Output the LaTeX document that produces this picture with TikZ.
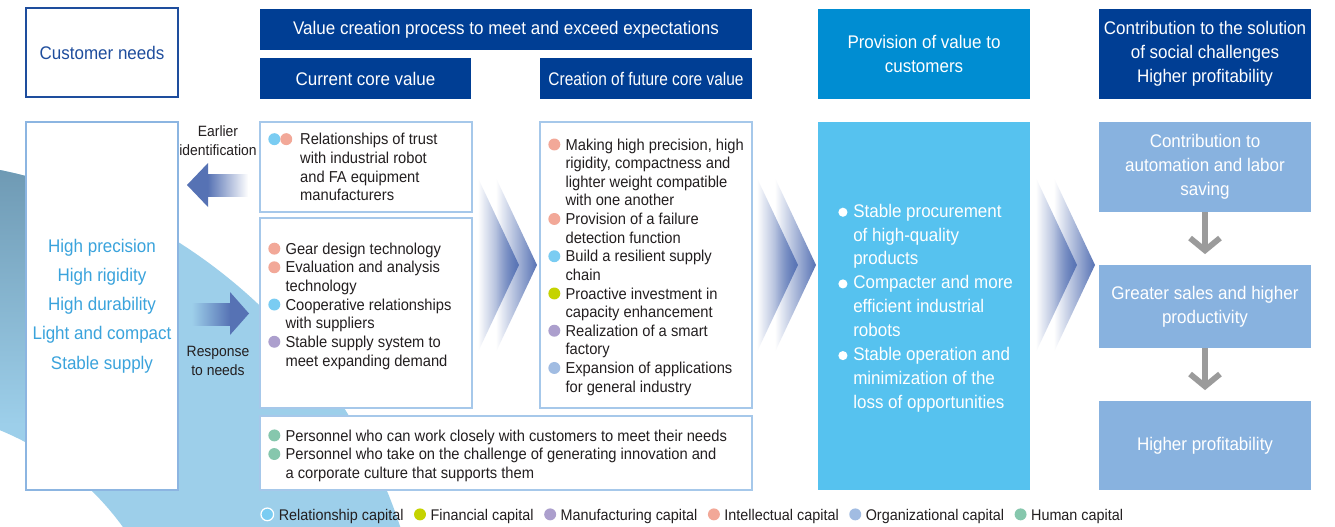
\documentclass[tikz,border=0pt]{standalone}
\usepackage{graphicx}
\usepackage{fontspec}
\setmainfont{Liberation Sans}[FakeStretch=0.93]
\usetikzlibrary{arrows.meta, fadings}

\definecolor{navy}{HTML}{003E94}
\definecolor{provblue}{HTML}{008DD2}
\definecolor{skyfill}{HTML}{56C2EF}
\definecolor{resfill}{HTML}{88B2DF}
\definecolor{panelline}{HTML}{A6C8EA}
\definecolor{leftline}{HTML}{8CB5E1}
\definecolor{needsline}{HTML}{1E4D9D}
\definecolor{needtext}{HTML}{3AA3DC}
\definecolor{arrowblue}{HTML}{5672B4}
\definecolor{bandblue}{HTML}{9DCFEA}
\definecolor{banddark}{HTML}{6E99B3}
\definecolor{flowgray}{HTML}{9B9B9B}
\definecolor{ink}{HTML}{231F20}
% capital colours
\definecolor{relcap}{HTML}{7ACCF2}
\definecolor{fincap}{HTML}{C5D300}
\definecolor{manucap}{HTML}{AC9FCD}
\definecolor{intelcap}{HTML}{F2A898}
\definecolor{orgcap}{HTML}{A1BCE2}
\definecolor{humancap}{HTML}{86C7AD}

\newcommand\bodyfont{\fontsize{9}{10.6}\selectfont}
\newcommand\boxfont{\fontsize{10.4}{13.6}\selectfont}
\newcommand\tagfont{\fontsize{8.5}{10.8}\selectfont}

\newcommand\capdot[1]{\tikz[baseline=-3.2pt]\fill[#1] (0,0) circle (3.4pt);}
\newcommand\wdot{\tikz[baseline=-2.8pt]\fill[white] (0,0) circle (2.6pt);}
\newcommand\capitem[2][9.8pt]{\makebox[#1][l]{#2}}
\newcommand\keyitem[2]{\capdot{#1}\hspace{2.6pt}#2}

\tikzfading[name=fade in right, left color=transparent!100, right color=transparent!0]
\tikzfading[name=fade out right, left color=transparent!0, right color=transparent!100]

\begin{document}
\begin{tikzpicture}[
        x=0.02cm, y=-0.02cm,
        wh/.style 2 args={minimum width=#1*0.02cm, minimum height=#2*0.02cm},
        hdr/.style={fill=navy, text=white, font=\boxfont, align=center, inner sep=0pt},
        panel/.style={draw=panelline, line width=0.6pt, fill=white, inner sep=0pt},
        items/.style={anchor=west, align=left, inner sep=0pt, font=\bodyfont, text=ink},
        result/.style={fill=resfill, text=white, font=\boxfont, align=center, inner sep=0pt},
        tag/.style={align=center, inner sep=0pt, font=\tagfont, text=ink},
        flow/.style={draw=flowgray, line width=3.3pt, -{Straight Barb[length=7pt, width=17pt]}, shorten >=6pt}
    ]
    \useasboundingbox (0,0) rectangle (1335,527);
    \fill[white] (0,0) rectangle (1335,527);

    % background ring
    \begin{scope}
        \clip (0,0) rectangle (1335,527);
        \fill[bandblue, even odd rule] (-108,694) circle[radius=10.7cm] (-108,694) circle[radius=5.7cm];
        \clip (-108,694) circle[radius=10.7cm];
        \shade[top color=banddark, bottom color=bandblue] (0,165) rectangle (178,425);
    \end{scope}

    % top row
    \node[draw=needsline, line width=1.1pt, fill=white, wh={152}{89}, text=needsline, font=\boxfont, inner sep=0pt] (needs) at (102,52.5) {Customer needs};
    \node[hdr, wh={492}{41}] (process) at (506,29.5) {Value creation process to meet and exceed expectations};
    \node[hdr, wh={211}{41}] (current) at (365.5,78.5) {Current core value};
    \node[hdr, wh={212}{41}] (future) at (646,78.5) {\scalebox{0.91}[1]{Creation of future core value}};
    \node[hdr, fill=provblue, wh={212}{90}] (provision) at (924,54) {Provision of value to\\customers};
    \node[hdr, wh={212}{90}] (social) at (1205,54) {Contribution to the solution\\of social challenges\\Higher profitability};

    % customer needs
    \node[draw=leftline, line width=1.7pt, fill=white, wh={152}{368}, inner sep=0pt,
          align=center, text=needtext, font=\fontsize{10.4}{16.6}\selectfont] (wants) at (102,306)
        {High precision\\High rigidity\\High durability\\Light and compact\\Stable supply};

    % current core value
    \node[panel, wh={212}{90}] (trust) at (366,167) {};
    \node[items] (trustT) at (268,167) {
        \capitem[18.1pt]{\capdot{relcap}\capdot{intelcap}}Relationships of trust\\
        \capitem[18.1pt]{}with industrial robot\\
        \capitem[18.1pt]{}and FA equipment\\
        \capitem[18.1pt]{}manufacturers};
    \node[panel, wh={212}{190}] (tech) at (366,313) {};
    \node[items] (techT) at (268,306) {
        \capitem{\capdot{intelcap}}Gear design technology\\
        \capitem{\capdot{intelcap}}Evaluation and analysis\\
        \capitem{}technology\\
        \capitem{\capdot{relcap}}Cooperative relationships\\
        \capitem{}with suppliers\\
        \capitem{\capdot{manucap}}Stable supply system to\\
        \capitem{}meet expanding demand};

    % future core value
    \node[panel, wh={212}{286}] (next) at (646,265) {};
    \node[items] (nextT) at (548,267) {
        \capitem{\capdot{intelcap}}Making high precision, high\\
        \capitem{}rigidity, compactness and\\
        \capitem{}lighter weight compatible\\
        \capitem{}with one another\\
        \capitem{\capdot{intelcap}}Provision of a failure\\
        \capitem{}detection function\\
        \capitem{\capdot{relcap}}Build a resilient supply\\
        \capitem{}chain\\
        \capitem{\capdot{fincap}}Proactive investment in\\
        \capitem{}capacity enhancement\\
        \capitem{\capdot{manucap}}Realization of a smart\\
        \capitem{}factory\\
        \capitem{\capdot{orgcap}}Expansion of applications\\
        \capitem{}for general industry};

    % people
    \node[panel, wh={492}{74}] (people) at (506,453) {};
    \node[items] (peopleT) at (268,455.5) {
        \capitem{\capdot{humancap}}Personnel who can work closely with customers to meet their needs\\
        \capitem{\capdot{humancap}}Personnel who take on the challenge of generating innovation and\\
        \capitem{}a corporate culture that supports them};

    % provision of value
    \node[fill=skyfill, wh={212}{368}, inner sep=0pt] (offer) at (924,306) {};
    \node[items, text=white, font=\fontsize{10.4}{13.6}\selectfont] (offerT) at (838,308) {
        \capitem[8.5pt]{\wdot}Stable procurement\\
        \capitem[8.5pt]{}of high-quality\\
        \capitem[8.5pt]{}products\\
        \capitem[8.5pt]{\wdot}Compacter and more\\
        \capitem[8.5pt]{}efficient industrial\\
        \capitem[8.5pt]{}robots\\
        \capitem[8.5pt]{\wdot}Stable operation and\\
        \capitem[8.5pt]{}minimization of the\\
        \capitem[8.5pt]{}loss of opportunities};

    % results
    \node[result, wh={212}{90}] (r1) at (1205,167) {Contribution to\\automation and labor\\saving};
    \node[result, wh={212}{83}] (r2) at (1205,306.5) {Greater sales and higher\\productivity};
    \node[result, wh={212}{89}] (r3) at (1205,445.5) {Higher profitability};
    \draw[flow] (r1) -- (r2);
    \draw[flow] (r2) -- (r3);

    % chevrons
    \foreach \cx in {478,757,1036}{
        \foreach \dx in {0,18}{
            \fill[arrowblue, path fading=fade in right] (\cx+\dx,178) -- (\cx+\dx+41,265) -- (\cx+\dx,352) -- cycle;
        }
    }

    % earlier identification
    \fill[arrowblue] (208,163) -- (187,185) -- (208,207) -- cycle;
    \fill[arrowblue, path fading=fade out right] (207.5,174) rectangle (248,197);
    \node[tag] (early) at (218,141) {Earlier\\identification};

    % response to needs
    \fill[arrowblue, path fading=fade in right] (192,303) rectangle (230.5,326);
    \fill[arrowblue] (230,292) -- (249,313.5) -- (230,335) -- cycle;
    \node[tag] (reply) at (218,361) {Response\\to needs};

    % legend
    \node[anchor=base west, inner sep=0pt, font=\fontsize{8.8}{10.8}\selectfont, text=ink] (key) at (260,520) {%
        \tikz[baseline=-3.2pt]\filldraw[fill=relcap, draw=white, line width=0.7pt] (0,0) circle (3.6pt);\hspace{2.6pt}Relationship capital\hspace{6pt}%
        \keyitem{fincap}{Financial capital}\hspace{6pt}%
        \keyitem{manucap}{Manufacturing capital}\hspace{6pt}%
        \keyitem{intelcap}{Intellectual capital}\hspace{6pt}%
        \keyitem{orgcap}{Organizational capital}\hspace{6pt}%
        \keyitem{humancap}{Human capital}};
\end{tikzpicture}
\end{document}
